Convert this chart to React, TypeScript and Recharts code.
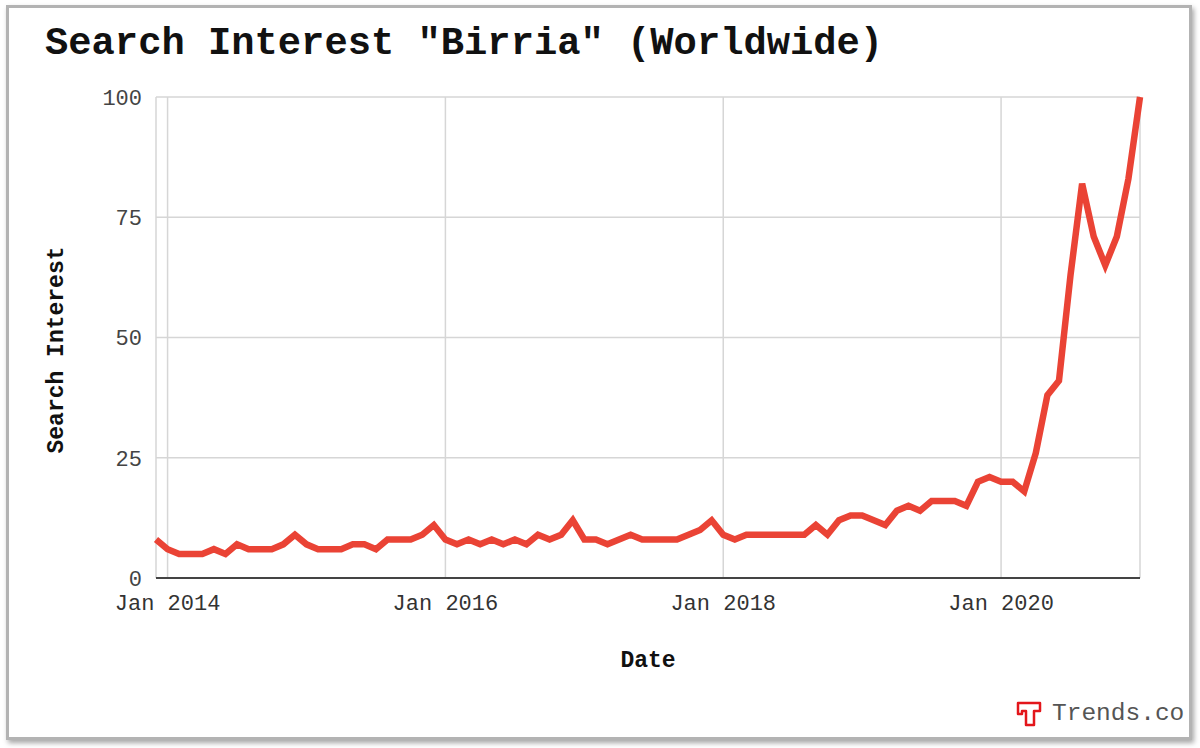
import React from "react";
import { LineChart, Line, XAxis, YAxis, CartesianGrid } from "recharts";

// Monthly search interest, Dec 2013 .. Jan 2021
const startYear = 2013;
const startMonth = 11; // December (0-based)
const values: number[] = [
  8,
  6, 5, 5, 5, 6, 5, 7, 6, 6, 6, 7, 9,
  7, 6, 6, 6, 7, 7, 6, 8, 8, 8, 9, 11,
  8, 7, 8, 7, 8, 7, 8, 7, 9, 8, 9, 12,
  8, 8, 7, 8, 9, 8, 8, 8, 8, 9, 10, 12,
  9, 8, 9, 9, 9, 9, 9, 9, 11, 9, 12, 13,
  13, 12, 11, 14, 15, 14, 16, 16, 16, 15, 20, 21,
  20, 20, 18, 26, 38, 41, 63, 82, 71, 65, 71, 83,
  100,
];
const monthNames = ["Jan", "Feb", "Mar", "Apr", "May", "Jun", "Jul", "Aug", "Sep", "Oct", "Nov", "Dec"];
const xTicks = [1, 25, 49, 73];
const xTickLabels = ["Jan 2014", "Jan 2016", "Jan 2018", "Jan 2020"];
const yTicks = [0, 25, 50, 75, 100];

const data = values.map((v, i) => {
  const total = startMonth + i;
  const y = startYear + Math.floor(total / 12);
  return { m: i, label: `${monthNames[total % 12]} ${y}`, value: v };
});

const MONO = "'Liberation Mono', 'Courier New', monospace";

export default function App() {
  return (
    <div style={{ position: "relative", width: 1200, height: 748, background: "#fff", overflow: "hidden" }}>
      <style>{`body{margin:0;}`}</style>
      <div
        style={{
          position: "absolute",
          left: 6,
          top: 5,
          width: 1186,
          height: 735,
          boxSizing: "border-box",
          border: "3px solid #b3b3b3",
          boxShadow: "2px 3px 5px rgba(0,0,0,0.35)",
          background: "#fff",
        }}
      />
      <div style={{ position: "absolute", left: 0, top: 0 }}>
        <LineChart width={1200} height={748} data={data} margin={{ top: 97, right: 60, bottom: 130, left: 0 }}>
          <CartesianGrid stroke="#d6d6d6" strokeWidth={1.5} />
          <XAxis
            dataKey="m"
            type="number"
            domain={[0, 85]}
            ticks={xTicks}
            tickFormatter={(v: number) => xTickLabels[xTicks.indexOf(v)] ?? ""}
            height={40}
            axisLine={{ stroke: "#444", strokeWidth: 2 }}
            tickLine={false}
            tickMargin={10}
            tick={{ fill: "#333", fontSize: 22, fontFamily: MONO }}
            interval={0}
          />
          <YAxis
            type="number"
            domain={[0, 100]}
            ticks={yTicks}
            width={156}
            axisLine={false}
            tickLine={false}
            tickMargin={8}
            tick={{ fill: "#444", fontSize: 22, fontFamily: MONO }}
            interval={0}
          />
          <Line
            type="linear"
            dataKey="value"
            stroke="#ea4335"
            strokeWidth={6.5}
            strokeLinejoin="miter"
            dot={false}
            activeDot={false}
            isAnimationActive={false}
          />
        </LineChart>
      </div>
      <svg
        width={1200}
        height={748}
        style={{ position: "absolute", left: 0, top: 0, pointerEvents: "none" }}
      >
        <text x={45} y={54} fontFamily={MONO} fontWeight="bold" fontSize={38.8} fill="#111">
          Search Interest "Birria" (Worldwide)
        </text>
        <text
          x={0}
          y={0}
          transform="translate(63 350) rotate(-90)"
          textAnchor="middle"
          fontFamily={MONO}
          fontWeight="bold"
          fontSize={23}
          fill="#111"
        >
          Search Interest
        </text>
        <text x={648} y={667} textAnchor="middle" fontFamily={MONO} fontWeight="bold" fontSize={23} fill="#111">
          Date
        </text>
        <path
          d="M1018 703 L1040 703 L1040 711 L1034 711 L1034 725 L1026 725 L1026 711 L1022 711 L1022 714 L1018 714 Z"
          fill="none"
          stroke="#e3161b"
          strokeWidth={2.5}
          strokeLinejoin="round"
        />
        <text x={1052} y={720} fontFamily={MONO} fontSize={24.5} fill="#555">
          Trends.co
        </text>
      </svg>
    </div>
  );
}
